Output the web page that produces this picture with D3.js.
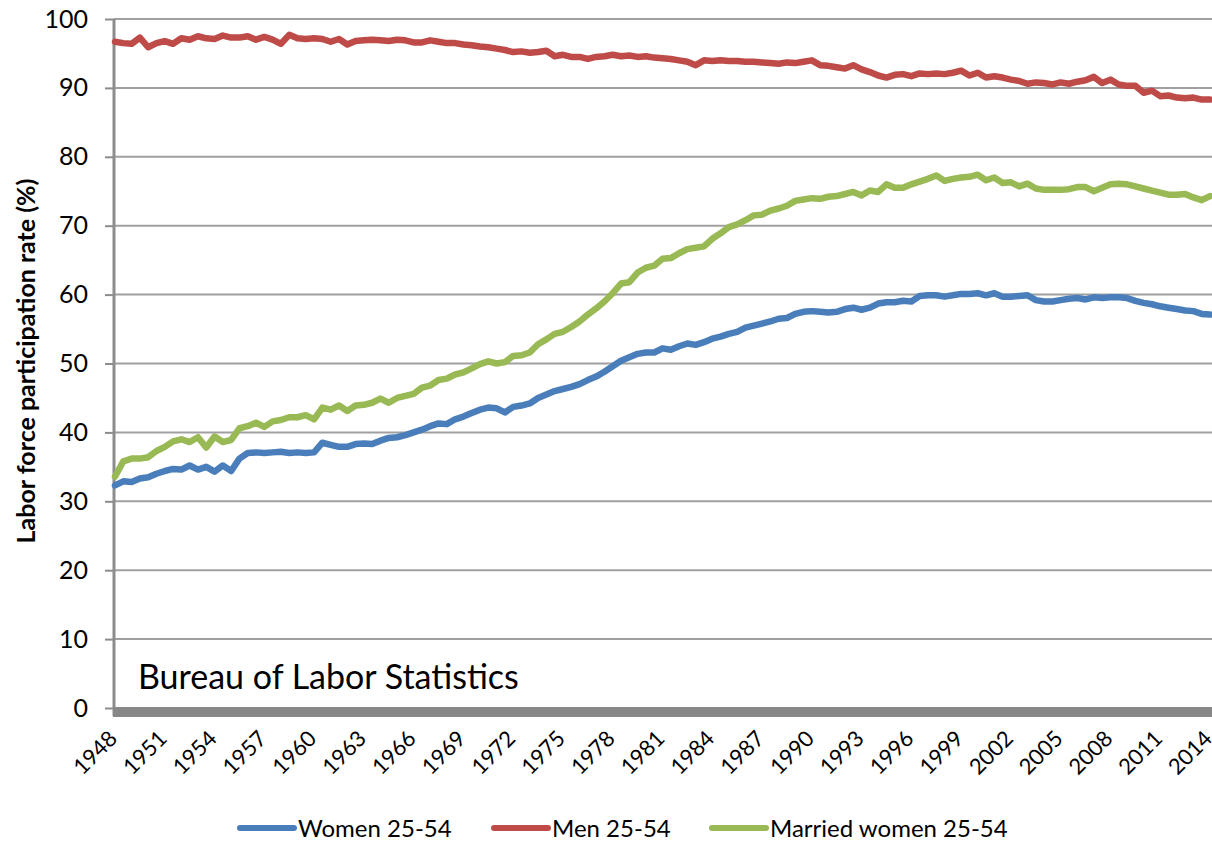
<!DOCTYPE html>
<html>
<head>
<meta charset="utf-8">
<script src="https://cdn.jsdelivr.net/npm/d3@7"></script>
<style>
  body { margin: 0; background: #fff; }
  svg { display: block; font-family: Lato, "Open Sans", sans-serif; }
</style>
</head>
<body>
<svg id="chart" width="1212" height="841"></svg>
<script>
// half-yearly readings, first one is Jan 1948
var firstYear = 1948;
var stepYears = 0.5;

var women = [
  32.3, 32.9, 32.8, 33.3, 33.5, 34.0, 34.4, 34.7, 34.6, 35.2,
  34.6, 35.0, 34.3, 35.2, 34.4, 36.2, 37.0, 37.1, 37.0, 37.1,
  37.2, 37.0, 37.1, 37.0, 37.1, 38.5, 38.2, 37.9, 37.9, 38.3,
  38.4, 38.3, 38.8, 39.2, 39.3, 39.6, 40.0, 40.4, 40.9, 41.3,
  41.2, 41.9, 42.3, 42.8, 43.3, 43.6, 43.5, 42.9, 43.7, 43.9,
  44.2, 45.0, 45.5, 46.0, 46.3, 46.6, 47.0, 47.6, 48.1, 48.8,
  49.6, 50.4, 50.9, 51.4, 51.6, 51.6, 52.2, 52.0, 52.5, 52.9,
  52.7, 53.1, 53.6, 53.9, 54.3, 54.6, 55.2, 55.5, 55.8, 56.1,
  56.5, 56.6, 57.2, 57.5, 57.6, 57.5, 57.4, 57.5, 57.9, 58.1,
  57.8, 58.1, 58.7, 58.9, 58.9, 59.1, 59.0, 59.8, 59.9, 59.9,
  59.7, 59.9, 60.1, 60.1, 60.2, 59.9, 60.2, 59.7, 59.7, 59.8,
  59.9, 59.2, 59.0, 59.0, 59.2, 59.4, 59.5, 59.3, 59.6, 59.5,
  59.6, 59.6, 59.5, 59.1, 58.8, 58.6, 58.3, 58.1, 57.9, 57.7,
  57.6, 57.2, 57.1
];

var men = [
  96.7, 96.5, 96.4, 97.3, 95.9, 96.5, 96.8, 96.4, 97.2, 97.0,
  97.5, 97.2, 97.1, 97.6, 97.3, 97.3, 97.5, 97.0, 97.4, 97.0,
  96.4, 97.7, 97.2, 97.1, 97.2, 97.1, 96.7, 97.1, 96.3, 96.8,
  96.9, 97.0, 96.9, 96.8, 97.0, 96.9, 96.6, 96.6, 96.9, 96.7,
  96.5, 96.5, 96.3, 96.2, 96.0, 95.9, 95.7, 95.5, 95.2, 95.3,
  95.1, 95.2, 95.4, 94.6, 94.8, 94.5, 94.5, 94.2, 94.5, 94.6,
  94.8, 94.6, 94.7, 94.5, 94.6, 94.4, 94.3, 94.2, 94.0, 93.8,
  93.3, 94.0, 93.9, 94.0, 93.9, 93.9, 93.8, 93.8, 93.7, 93.6,
  93.5, 93.7, 93.6, 93.8, 94.0, 93.3, 93.2, 93.0, 92.8, 93.3,
  92.7, 92.3, 91.8, 91.5, 91.9, 92.0, 91.7, 92.1, 92.0, 92.1,
  92.0, 92.2, 92.5, 91.8, 92.2, 91.5, 91.7, 91.5, 91.2, 91.0,
  90.6, 90.8, 90.7, 90.5, 90.8, 90.6, 90.9, 91.1, 91.6, 90.7,
  91.2, 90.5, 90.3, 90.3, 89.3, 89.6, 88.8, 88.9, 88.6, 88.5,
  88.6, 88.3, 88.3
];

var married = [
  33.6, 35.8, 36.2, 36.2, 36.4, 37.3, 37.9, 38.7, 39.0, 38.6,
  39.3, 37.8, 39.4, 38.6, 38.9, 40.6, 40.9, 41.4, 40.8, 41.6,
  41.8, 42.2, 42.2, 42.5, 41.9, 43.6, 43.3, 43.9, 43.1, 43.9,
  44.0, 44.3, 44.9, 44.3, 45.0, 45.3, 45.6, 46.5, 46.8, 47.6,
  47.8, 48.4, 48.7, 49.3, 49.9, 50.3, 50.0, 50.2, 51.1, 51.2,
  51.6, 52.8, 53.5, 54.3, 54.6, 55.3, 56.1, 57.1, 58.0, 59.0,
  60.2, 61.6, 61.8, 63.2, 63.9, 64.2, 65.2, 65.3, 66.0, 66.6,
  66.8, 67.0, 68.1, 68.9, 69.8, 70.2, 70.8, 71.5, 71.6, 72.2,
  72.5, 72.9, 73.6, 73.8, 74.0, 73.9, 74.2, 74.3, 74.6, 74.9,
  74.4, 75.1, 74.9, 76.0, 75.5, 75.5, 76.0, 76.4, 76.8, 77.3,
  76.5, 76.8, 77.0, 77.1, 77.4, 76.6, 77.0, 76.2, 76.3, 75.7,
  76.1, 75.4, 75.2, 75.2, 75.2, 75.3, 75.6, 75.6, 75.0, 75.5,
  76.0, 76.1, 76.0, 75.7, 75.4, 75.1, 74.8, 74.5, 74.5, 74.6,
  74.1, 73.7, 74.3
];

var seriesNames = ["Women 25-54", "Men 25-54", "Married women 25-54"];
var seriesColors = ["#4a7ebb", "#be4b48", "#98b954"];
var yTicks = [0, 10, 20, 30, 40, 50, 60, 70, 80, 90, 100];
var xTicks = [1948, 1951, 1954, 1957, 1960, 1963, 1966, 1969, 1972, 1975, 1978,
  1981, 1984, 1987, 1990, 1993, 1996, 1999, 2002, 2005, 2008, 2011, 2014];
var yTitle = "Labor force participation rate (%)";
var sourceNote = "Bureau of Labor Statistics";

var svg = d3.select("#chart");

var plotLeft = 114, plotRight = 1212, plotTop = 19, plotBottom = 708;

var xScale = d3.scaleLinear().domain([1948, 2014]).range([115, 1210]);
var yScale = d3.scaleLinear().domain([0, 100]).range([plotBottom, plotTop]);

// gridlines
svg.append("g")
  .selectAll("line")
  .data(yTicks.slice(1))
  .enter()
  .append("line")
  .attr("x1", plotLeft)
  .attr("x2", plotRight)
  .attr("y1", function (d) { return yScale(d); })
  .attr("y2", function (d) { return yScale(d); })
  .attr("stroke", "#a0a0a0")
  .attr("stroke-width", 2);

// y axis
var yAxis = d3.axisLeft(yScale).tickValues(yTicks).tickSize(9).tickPadding(17);
var yg = svg.append("g").attr("transform", "translate(" + plotLeft + ",0)").call(yAxis);
yg.select(".domain").remove();
yg.selectAll(".tick line").attr("stroke", "#8c8c8c").attr("stroke-width", 2);
yg.selectAll(".tick text")
  .attr("font-family", "Lato, sans-serif")
  .attr("font-size", 25)
  .attr("fill", "#000");

svg.append("line")
  .attr("x1", plotLeft).attr("x2", plotLeft)
  .attr("y1", plotTop).attr("y2", plotBottom + 8)
  .attr("stroke", "#8c8c8c")
  .attr("stroke-width", 3);

// floor band along the bottom
svg.append("rect")
  .attr("x", plotLeft - 1)
  .attr("y", plotBottom - 1)
  .attr("width", plotRight - plotLeft + 1)
  .attr("height", 10)
  .attr("fill", "#878787");

// x axis labels
var xAxis = d3.axisBottom(xScale).tickValues(xTicks).tickSize(0).tickFormat(d3.format("d"));
var xg = svg.append("g").attr("transform", "translate(0," + (plotBottom + 9) + ")").call(xAxis);
xg.select(".domain").remove();
xg.selectAll(".tick text")
  .attr("font-family", "Lato, sans-serif")
  .attr("font-size", 22)
  .attr("fill", "#000")
  .attr("text-anchor", "end")
  .attr("dy", "0.7em")
  .attr("y", 3)
  .attr("x", -14)
  .attr("transform", "rotate(-45)");

// series lines
var line = d3.line()
  .x(function (d, i) { return xScale(firstYear + i * stepYears); })
  .y(function (d) { return yScale(d); });

var allSeries = [women, men, married];
svg.append("g")
  .selectAll("path")
  .data(allSeries)
  .enter()
  .append("path")
  .attr("d", line)
  .attr("fill", "none")
  .attr("stroke", function (d, i) { return seriesColors[i]; })
  .attr("stroke-width", 6.5)
  .attr("stroke-linejoin", "round")
  .attr("stroke-linecap", "round");

// y title
svg.append("text")
  .attr("transform", "translate(35,361) rotate(-90)")
  .attr("text-anchor", "middle")
  .attr("font-family", "Lato, sans-serif")
  .attr("font-weight", "bold")
  .attr("font-size", 25)
  .text(yTitle);

// source note
svg.append("text")
  .attr("x", 138)
  .attr("y", 689)
  .attr("font-family", "Lato, sans-serif")
  .attr("font-size", 34)
  .text(sourceNote);

// legend
var legendX = [240, 494, 712];
var legend = svg.append("g")
  .selectAll("g")
  .data(seriesNames)
  .enter()
  .append("g")
  .attr("transform", function (d, i) { return "translate(" + legendX[i] + ",828)"; });
legend.append("line")
  .attr("x1", 0).attr("x2", 54)
  .attr("stroke", function (d, i) { return seriesColors[i]; })
  .attr("stroke-width", 6)
  .attr("stroke-linecap", "round");
legend.append("text")
  .attr("x", 58)
  .attr("dy", "0.36em")
  .attr("font-family", "Lato, sans-serif")
  .attr("font-size", 24)
  .text(function (d) { return d; });
</script>
</body>
</html>
